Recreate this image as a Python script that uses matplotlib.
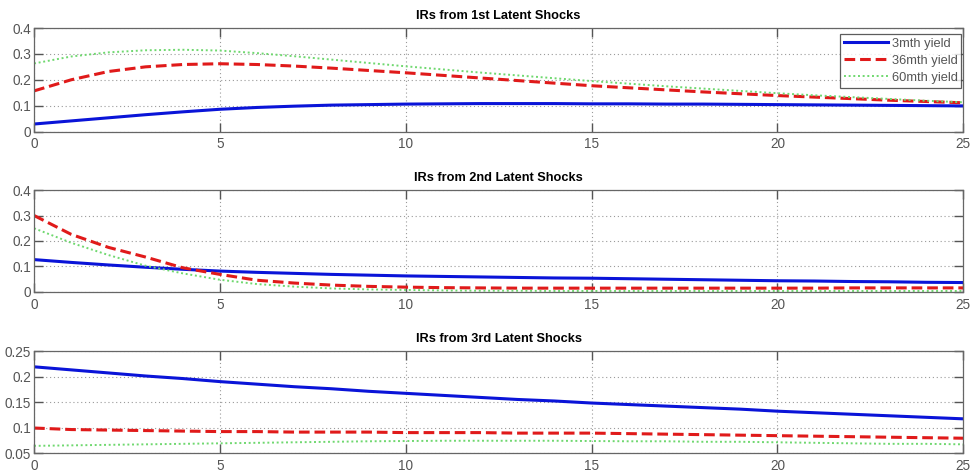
import numpy as np
import matplotlib
matplotlib.use("Agg")
import matplotlib.pyplot as plt
from matplotlib.ticker import FuncFormatter

plt.rcParams['font.family'] = ['Liberation Sans', 'DejaVu Sans']

horizon = np.arange(0, 26)
series_names = ["3mth yield", "36mth yield", "60mth yield"]
titles = ["IRs from 1st Latent Shocks", "IRs from 2nd Latent Shocks", "IRs from 3rd Latent Shocks"]
x_ticks = [0, 5, 10, 15, 20, 25]
y_ticks = [[0, 0.1, 0.2, 0.3, 0.4], [0, 0.1, 0.2, 0.3, 0.4], [0.05, 0.1, 0.15, 0.2, 0.25]]

# Responses to the 1st latent shock
shock1_3m = [0.029, 0.041, 0.053, 0.065, 0.076, 0.086, 0.093, 0.098, 0.102, 0.104, 0.106, 0.107,
             0.108, 0.108, 0.108, 0.107, 0.107, 0.106, 0.106, 0.105, 0.104, 0.103, 0.102, 0.101,
             0.100, 0.099]
shock1_36m = [0.157, 0.200, 0.232, 0.250, 0.259, 0.262, 0.259, 0.253, 0.245, 0.236, 0.227, 0.217,
              0.207, 0.197, 0.187, 0.177, 0.169, 0.161, 0.153, 0.146, 0.139, 0.133, 0.127, 0.121,
              0.116, 0.111]
shock1_60m = [0.263, 0.290, 0.306, 0.314, 0.316, 0.313, 0.303, 0.291, 0.278, 0.265, 0.252, 0.240,
              0.228, 0.217, 0.206, 0.195, 0.185, 0.175, 0.166, 0.157, 0.148, 0.140, 0.133, 0.126,
              0.119, 0.113]

# Responses to the 2nd latent shock
shock2_3m = [0.127, 0.116, 0.106, 0.097, 0.089, 0.082, 0.077, 0.073, 0.069, 0.066, 0.063, 0.061,
             0.059, 0.057, 0.055, 0.054, 0.052, 0.050, 0.048, 0.046, 0.044, 0.043, 0.041, 0.040,
             0.038, 0.037]
shock2_36m = [0.300, 0.226, 0.175, 0.137, 0.095, 0.069, 0.046, 0.035, 0.027, 0.022, 0.019, 0.017,
              0.016, 0.015, 0.015, 0.015, 0.015, 0.015, 0.015, 0.015, 0.015, 0.015, 0.016, 0.016,
              0.016, 0.016]
shock2_60m = [0.250, 0.193, 0.145, 0.103, 0.073, 0.048, 0.031, 0.021, 0.014, 0.010, 0.008, 0.006,
              0.005, 0.005, 0.004, 0.004, 0.004, 0.004, 0.004, 0.004, 0.004, 0.004, 0.004, 0.004,
              0.004, 0.004]

# Responses to the 3rd latent shock
shock3_3m = [0.219, 0.213, 0.207, 0.201, 0.196, 0.190, 0.185, 0.180, 0.176, 0.171, 0.167, 0.163,
             0.159, 0.155, 0.152, 0.148, 0.145, 0.142, 0.139, 0.136, 0.132, 0.129, 0.126, 0.123,
             0.120, 0.117]
shock3_36m = [0.099, 0.096, 0.095, 0.094, 0.093, 0.092, 0.092, 0.091, 0.091, 0.091, 0.090, 0.090,
              0.090, 0.089, 0.089, 0.089, 0.088, 0.087, 0.086, 0.085, 0.084, 0.083, 0.082, 0.081,
              0.080, 0.079]
shock3_60m = [0.064, 0.065, 0.066, 0.067, 0.068, 0.069, 0.070, 0.071, 0.072, 0.073, 0.0735, 0.074,
              0.074, 0.074, 0.074, 0.0735, 0.073, 0.073, 0.072, 0.072, 0.071, 0.070, 0.069, 0.068,
              0.068, 0.067]

panels = [
    (shock1_3m, shock1_36m, shock1_60m),
    (shock2_3m, shock2_36m, shock2_60m),
    (shock3_3m, shock3_36m, shock3_60m),
]
y_limits = [(0, 0.4), (0, 0.4), (0.05, 0.25)]

styles = [
    dict(color="#0a14d8", linestyle="-", linewidth=2.2),
    dict(color="#e01a1a", linestyle=(0, (3.5, 1.6)), linewidth=2.2),
    dict(color="#6fd86f", linestyle=(0, (1, 1.4)), linewidth=1.4),
]

fig = plt.figure(figsize=(9.73, 4.76), dpi=100)
boxes = [
    [0.035, 0.7237, 0.955, 0.2174],
    [0.035, 0.3866, 0.955, 0.2142],
    [0.035, 0.0483, 0.955, 0.2143],
]

def fmt(v, _):
    s = ("%.2f" % v).rstrip("0").rstrip(".")
    return s

for i, (box, series) in enumerate(zip(boxes, panels)):
    ax = fig.add_axes(box)
    for vals, name, st in zip(series, series_names, styles):
        ax.plot(horizon, vals, label=name, **st)
    ax.set_xlim(0, 25)
    ax.set_ylim(*y_limits[i])
    ax.set_xticks(x_ticks)
    ax.set_yticks(y_ticks[i])
    ax.yaxis.set_major_formatter(FuncFormatter(fmt))
    ax.grid(True, linestyle=(0, (1, 2.5)), color="#9a9a9a", linewidth=0.8)
    ax.tick_params(direction="in", length=6.5, width=1.0, color="#555555",
                   labelcolor="#555555", labelsize=9.8, top=True, right=True)
    ax.tick_params(axis="x", pad=4)
    ax.tick_params(axis="y", pad=2)
    for sp in ax.spines.values():
        sp.set_color("#666666")
        sp.set_linewidth(0.9)
    ax.set_title(titles[i], fontsize=9.2, fontweight="bold", pad=6.5)
    if i == 0:
        leg = ax.legend(loc="upper right", bbox_to_anchor=(0.998, 0.942), fontsize=9.3,
                        frameon=True, fancybox=False, handlelength=3.4, handletextpad=0.3,
                        borderpad=0.3, labelspacing=0.38, borderaxespad=0)
        leg.get_frame().set_edgecolor("#333333")
        leg.get_frame().set_linewidth(0.9)
        for t in leg.get_texts():
            t.set_color("#555555")

fig.savefig("out.png", dpi=100)
